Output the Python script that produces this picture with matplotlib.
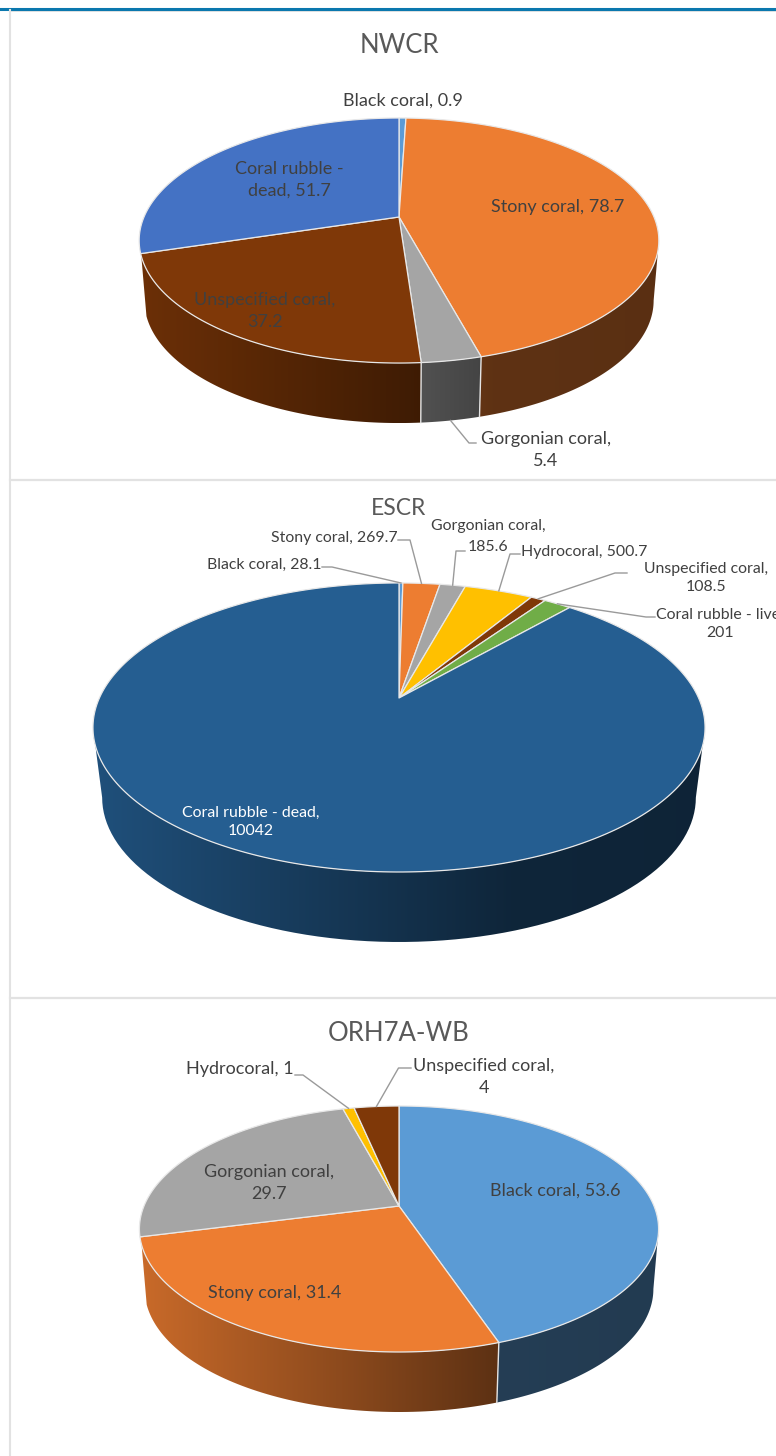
import numpy as np
import matplotlib
matplotlib.use('Agg')
import matplotlib.pyplot as plt
from matplotlib.patches import Polygon

plt.rcParams['font.family'] = ['Lato', 'DejaVu Sans']

# Data
nwcr_labels = ['Black coral', 'Stony coral', 'Gorgonian coral', 'Unspecified coral', 'Coral rubble - dead']
nwcr_values = [0.9, 78.7, 5.4, 37.2, 51.7]
nwcr_colors = ['#5b9bd5', '#ed7d31', '#a5a5a5', '#7f3808', '#4472c4']

escr_labels = ['Black coral', 'Stony coral', 'Gorgonian coral', 'Hydrocoral', 'Unspecified coral',
               'Coral rubble - live', 'Coral rubble - dead']
escr_values = [28.1, 269.7, 185.6, 500.7, 108.5, 201, 10042]
escr_colors = ['#5b9bd5', '#ed7d31', '#a5a5a5', '#ffc000', '#7f3808', '#70ad47', '#255e91']

orh_labels = ['Black coral', 'Stony coral', 'Gorgonian coral', 'Hydrocoral', 'Unspecified coral']
orh_values = [53.6, 31.4, 29.7, 1, 4]
orh_colors = ['#5b9bd5', '#ed7d31', '#a5a5a5', '#ffc000', '#7f3808']

W, H = 776, 1456
fig = plt.figure(figsize=(W / 100, H / 100), dpi=100)
ax = fig.add_axes([0, 0, 1, 1])
ax.set_xlim(0, W)
ax.set_ylim(H, 0)
ax.set_autoscale_on(False)
ax.axis('off')

TXT = '#404040'
LEAD = '#9a9a9a'


def shade(f):
    # side wall gets darker to the right, then stays flat
    return np.interp(f, [0, 0.68, 1], [0.85, 0.40, 0.38])


def draw_pie(values, colors, cx, cy, a, b, k, depth, shrink, cut=0.125):
    vals = np.array(values, dtype=float)
    edges = np.concatenate([[0], np.cumsum(vals)]) / vals.sum() * 2 * np.pi

    def rim(t):
        d = 1 + k * np.cos(t)
        return cx + a * np.sin(t) / d, cy - b * np.cos(t) / d

    def low(t):
        x, y = rim(t)
        return cx + shrink * (x - cx), y + depth

    t0 = np.arccos(-k)
    t1 = 2 * np.pi - t0 - cut  # left end of the wall, slices behind it stay hidden
    half = a / np.sqrt(1 - k ** 2)
    left, right = cx - half, cx + half
    top = cy - b / (1 + k)
    bottom = cy + b / (1 - k) + depth

    # side wall, a gradient image clipped to each slice
    grad = shade(np.linspace(0, 1, 300))
    for i, col in enumerate(colors):
        s, e = max(edges[i], t0), min(edges[i + 1], t1)
        if e <= s:
            continue
        ts = np.linspace(s, e, 80)
        ux, uy = rim(ts)
        lx, ly = low(ts[::-1])
        poly = Polygon(np.column_stack([np.r_[ux, lx], np.r_[uy, ly]]), closed=True,
                       facecolor='none', edgecolor='none', transform=ax.transData)
        ax.add_patch(poly)
        base = np.array(matplotlib.colors.to_rgb(col))
        img = (grad[None, :, None] * base[None, None, :]).clip(0, 1)
        im = ax.imshow(img, extent=(left, right, bottom, top), aspect='auto', zorder=2,
                       interpolation='bilinear')
        im.set_clip_path(poly)
    # pale lines between wall parts
    for t in edges[1:-1]:
        if t0 < t < t1:
            xu, yu = rim(t)
            xl, yl = low(t)
            ax.plot([xu, xl], [yu, yl], color='#e4e4e4', lw=1, zorder=3)

    # top face
    for i, col in enumerate(colors):
        ts = np.linspace(edges[i], edges[i + 1], max(int((edges[i + 1] - edges[i]) * 60), 3))
        x, y = rim(ts)
        pts = np.vstack([[cx, cy], np.column_stack([x, y])])
        ax.add_patch(Polygon(pts, closed=True, facecolor=col, edgecolor='#e8e8e8', lw=0.9,
                             joinstyle='round', zorder=4))
    return rim, low, edges


def label(x, y, s, color=TXT, size=13):
    ax.text(x, y + 1, s, ha='center', va='center', color=color, fontsize=size, linespacing=1.45, zorder=6)


def title(x, y, s, size=18.5):
    ax.text(x, y + 1.5, s, ha='center', va='center', color='#595959', fontsize=size, zorder=6)


def leader(*pts):
    xs, ys = zip(*pts)
    ax.plot(xs, ys, color=LEAD, lw=1, zorder=5, solid_joinstyle='round')


def mid(edges, i):
    return (edges[i] + edges[i + 1]) / 2


# panel borders
ax.plot([0, W], [8.5, 8.5], color='#0b78ae', lw=2.2, zorder=1)
ax.plot([10, W], [11, 11], color='#e2e2e2', lw=1.4, zorder=0)
ax.plot([10, 10], [10, H], color='#e2e2e2', lw=1.5, zorder=1)
ax.plot([10, W], [479.5, 479.5], color='#e2e2e2', lw=1.6, zorder=1)
ax.plot([10, W], [998, 998], color='#e2e2e2', lw=1.6, zorder=1)

# NWCR
title(399, 44, 'NWCR')
rim, low, ed = draw_pie(nwcr_values, nwcr_colors, 399, 217, 255, 118, 0.192, 60, 0.98)
label(403, 100, f'{nwcr_labels[0]}, {nwcr_values[0]}')
label(558, 206, f'{nwcr_labels[1]}, {nwcr_values[1]}')
label(546, 449, f'{nwcr_labels[2]},\n{nwcr_values[2]}')
label(265, 310, f'{nwcr_labels[3]},\n{nwcr_values[3]}')
label(289, 179, 'Coral rubble -\ndead, ' + str(nwcr_values[4]))
leader(low(mid(ed, 2)), (469, 443), (476, 443))

# ESCR
title(399, 507, 'ESCR', size=16.5)
rim, low, ed = draw_pie(escr_values, escr_colors, 399, 698, 299.6, 138.5, 0.204, 70, 0.97, cut=0)
label(264, 564, f'{escr_labels[0]}, {escr_values[0]}', size=11.4)
label(334, 537, f'{escr_labels[1]}, {escr_values[1]}', size=11.4)
label(488, 525, f'{escr_labels[2]},', size=11.4)
label(488, 546, f'{escr_values[2]}', size=11.4)
label(584, 551, f'{escr_labels[3]}, {escr_values[3]}', size=11.4)
label(706, 577, f'{escr_labels[4]},\n{escr_values[4]}', size=11.4)
label(720, 623, f'{escr_labels[5]},\n{escr_values[5]}', size=11.4)
label(251, 821, f'{escr_labels[6]},\n{escr_values[6]}', color='white', size=11.4)
leader((322, 567), (332, 567), rim(mid(ed, 0)))
leader((398, 540), (410, 540), rim(mid(ed, 1)))
leader((465, 551), (456, 551), rim(mid(ed, 2)))
leader((520, 554), (510, 554), rim(mid(ed, 3)))
leader((627, 573), (615, 573), rim(mid(ed, 4)))
leader((655, 617), (646, 617), rim(mid(ed, 5)))

# ORH7A-WB
title(399, 1032, 'ORH7A-WB')
rim, low, ed = draw_pie(orh_values, orh_colors, 399, 1206, 255, 118.7, 0.187, 60, 0.98)
label(555, 1190, f'{orh_labels[0]}, {orh_values[0]}')
label(275, 1292, f'{orh_labels[1]}, {orh_values[1]}')
label(269, 1182, f'{orh_labels[2]},\n{orh_values[2]}')
label(240, 1068, f'{orh_labels[3]}, {orh_values[3]}')
label(484, 1076, f'{orh_labels[4]},\n{orh_values[4]}')
leader((295, 1075), (303, 1075), rim(mid(ed, 3)))
leader((411, 1068), (398.5, 1068), rim(mid(ed, 4)))

fig.savefig('out.png', dpi=100, facecolor='white')
